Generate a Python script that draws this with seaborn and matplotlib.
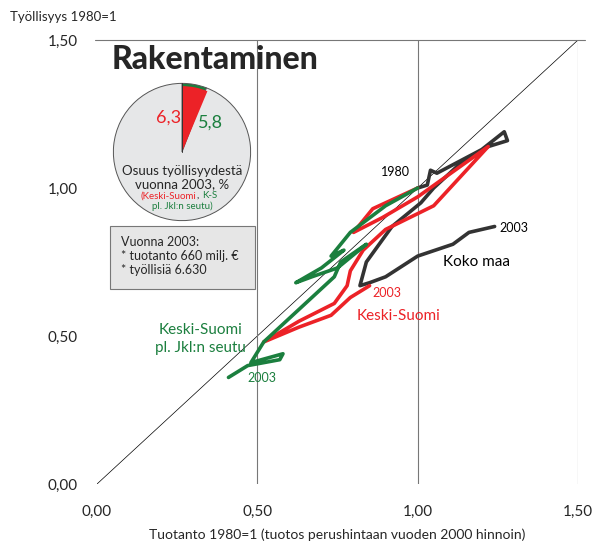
import numpy as np
import pandas as pd
import matplotlib
matplotlib.use("Agg")
import matplotlib.pyplot as plt
from matplotlib.patches import Rectangle
import seaborn as sns

# Koko maa (whole country), production vs employment, 1980=1
koko_x = [1.00, 1.03, 1.04, 1.06, 1.13, 1.20, 1.27, 1.28, 1.22, 1.12, 1.05, 1.01,
          0.92, 0.84, 0.82, 0.85, 0.90, 1.00, 1.11, 1.16, 1.24]
koko_y = [1.00, 1.01, 1.06, 1.05, 1.09, 1.13, 1.19, 1.16, 1.14, 1.07, 1.00, 0.95,
          0.87, 0.75, 0.67, 0.68, 0.70, 0.77, 0.81, 0.85, 0.87]

# Keski-Suomi
ks_x = [1.00, 0.86, 0.80, 0.89, 1.00, 1.22, 1.05, 0.90, 0.83, 0.79, 0.78, 0.74,
        0.63, 0.52, 0.63, 0.73, 0.79, 0.85]
ks_y = [1.00, 0.93, 0.85, 0.90, 0.97, 1.14, 0.94, 0.86, 0.79, 0.72, 0.67, 0.61,
        0.55, 0.48, 0.53, 0.57, 0.63, 0.67]

# Keski-Suomi pl. Jkl:n seutu
ksj_x = [1.00, 0.90, 0.79, 0.73, 0.77, 0.70, 0.62, 0.67, 0.75, 0.84, 0.76, 0.74,
         0.52, 0.48, 0.58, 0.57, 0.47, 0.41]
ksj_y = [1.00, 0.94, 0.85, 0.77, 0.79, 0.73, 0.68, 0.70, 0.73, 0.81, 0.75, 0.70,
         0.48, 0.41, 0.44, 0.42, 0.40, 0.36]

# employment share 2003, %
share_ks = 6.3
share_ksj = 5.8

ticks = [0.0, 0.5, 1.0, 1.5]
tick_labels = ["0,00", "0,50", "1,00", "1,50"]

RED = "#ec2227"
GREEN = "#1b7f3e"
DARK = "#333333"

sns.set_style("white")
plt.rcParams["font.family"] = ["Lato", "DejaVu Sans"]

fig = plt.figure(figsize=(5.96, 5.46), dpi=100)
ax = fig.add_axes([97 / 596, 1 - 484 / 546, 481 / 596, 444 / 546])

for xs, ys, col in [(koko_x, koko_y, DARK), (ks_x, ks_y, RED), (ksj_x, ksj_y, GREEN)]:
    df = pd.DataFrame({"x": xs, "y": ys})
    sns.lineplot(data=df, x="x", y="y", sort=False, estimator=None, color=col,
                 lw=2.6, ax=ax, zorder=3)

# frame: diagonal, verticals, top line
ax.plot([0, 1.5], [0, 1.5], color="black", lw=0.5, zorder=1)
for v in [0.5, 1.0, 1.5]:
    ax.axvline(v, color="#777777", lw=0.8, zorder=1)
ax.axhline(1.5, xmin=-0.005, xmax=1.015, color="#777777", lw=0.8, clip_on=False, zorder=1)

ax.set_xlim(0, 1.5)
ax.set_ylim(0, 1.5)
ax.set_xticks(ticks)
ax.set_xticklabels(tick_labels, fontsize=11)
ax.set_yticks(ticks)
ax.set_yticklabels(tick_labels, fontsize=11)
ax.tick_params(axis="x", length=0, pad=15)
ax.tick_params(axis="y", length=0, pad=14)
ax.set_xlabel("Tuotanto 1980=1 (tuotos perushintaan vuoden 2000 hinnoin)", fontsize=10, labelpad=7)
ax.set_ylabel("")
sns.despine(ax=ax, left=True, bottom=True)
fig.text(10 / 596, 1 - 17 / 546, "Työllisyys 1980=1", fontsize=9.5, va="center")

# series labels
ax.text(0.975, 1.055, "1980", fontsize=9, ha="right", va="center", color="black")
ax.text(1.255, 0.865, "2003", fontsize=9, ha="left", va="center", color="black")
ax.text(1.08, 0.75, "Koko maa", fontsize=11, ha="left", va="center", color="black")
ax.text(0.86, 0.645, "2003", fontsize=9, ha="left", va="center", color=RED)
ax.text(0.81, 0.568, "Keski-Suomi", fontsize=11, ha="left", va="center", color=RED)
ax.text(0.324, 0.52, "Keski-Suomi", fontsize=11, ha="center", va="center", color=GREEN)
ax.text(0.324, 0.459, "pl. Jkl:n seutu", fontsize=11, ha="center", va="center", color=GREEN)
ax.text(0.468, 0.357, "2003", fontsize=9, ha="left", va="center", color=GREEN)

# title
fig.text(112 / 596, 1 - 59 / 546, "Rakentaminen", fontsize=23, fontweight="black",
         va="center", ha="left")

# pie inset
pax = fig.add_axes([112 / 596, 1 - 222 / 546, 140 / 596, 140 / 546])
pax.pie([share_ksj, 100 - share_ksj], colors=[GREEN, "#e6e7e8"], startangle=90,
        counterclock=False, radius=1.0,
        wedgeprops=dict(edgecolor="#555555", linewidth=0.7))
pax.pie([share_ks, 100 - share_ks], colors=[RED, "none"], startangle=90,
        counterclock=False, radius=0.96,
        wedgeprops=dict(edgecolor="none", linewidth=0))
pax.plot([0, 0], [0, 1], color="#333333", lw=0.7)
pax.set_xlim(-1.02, 1.02)
pax.set_ylim(-1.02, 1.02)
pax.set_aspect("equal")
pax.axis("off")
pax.text(-0.2, 0.5, "6,3", color=RED, fontsize=13, ha="center", va="center")
pax.text(0.42, 0.43, "5,8", color=GREEN, fontsize=13, ha="center", va="center")
pax.text(0, -0.27, "Osuus työllisyydestä", fontsize=9.5, ha="center", va="center")
pax.text(0, -0.47, "vuonna 2003, %", fontsize=9.5, ha="center", va="center")
pax.text(0.21, -0.64, "(Keski-Suomi", fontsize=7, color=RED, ha="right", va="center")
pax.text(0.21, -0.64, ",", fontsize=7, color="black", ha="left", va="center")
pax.text(0.30, -0.64, "K-S", fontsize=7, color=GREEN, ha="left", va="center")
pax.text(0, -0.79, "pl. Jkl:n seutu)", fontsize=7, color=GREEN, ha="center", va="center")

# info box
fig.patches.append(Rectangle((110 / 596, 1 - 289 / 546), 145 / 596, 63 / 546,
                             transform=fig.transFigure, facecolor="#e6e6e6",
                             edgecolor="#777777", lw=0.8, zorder=5))
fig.text(121 / 596, 1 - 256 / 546,
         "Vuonna 2003:\n* tuotanto 660 milj. €\n* työllisiä 6.630",
         fontsize=9, va="center", ha="left", linespacing=1.25, zorder=6)

fig.savefig("out.png", dpi=100)
